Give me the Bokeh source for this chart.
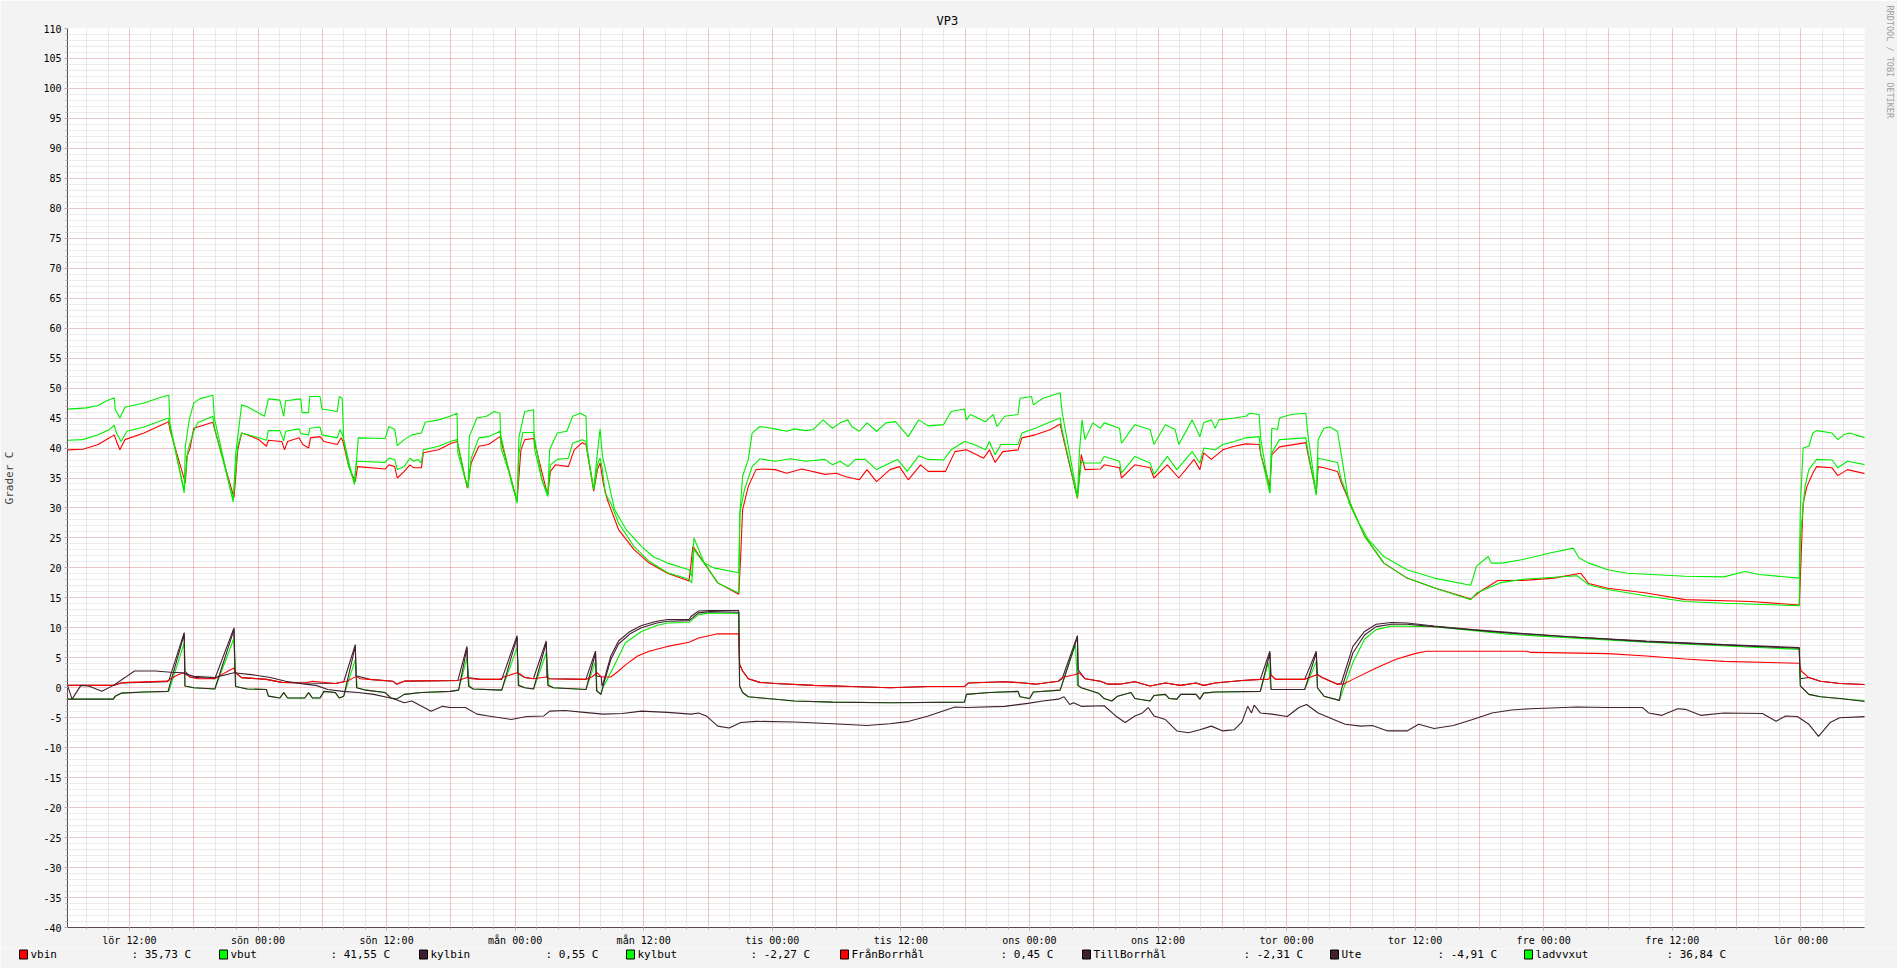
from bokeh.plotting import figure
from bokeh.layouts import column
from bokeh.models import Range1d, FixedTicker, Title
from bokeh.core.properties import value
from bokeh.embed import file_html
from bokeh.resources import INLINE

# ---------------- data (hours since first Saturday 00:00, degrees C) ----------------
vbin_h = [6.22, 7.65, 9.08, 10.15, 10.58, 10.86, 11.11, 11.58, 13.36, 15.65, 15.79, 17.22, 17.36, 17.65, 18.0, 19.79, 19.97, 21.76, 22.11, 22.47, 23.0, 24.08, 24.79, 24.97, 26.22, 26.47, 26.76, 27.83, 28.18, 28.72, 28.9, 29.79, 30.15, 31.4, 31.76, 31.93, 32.47, 33.08, 33.29, 35.86, 36.22, 36.76, 37.0, 37.65, 38.18, 38.54, 39.25, 39.43, 40.86, 41.93, 42.58, 43.54, 43.9, 44.61, 45.51, 46.58, 48.18, 48.54, 48.9, 49.72, 51.04, 51.29, 51.76, 52.97, 53.51, 54.26, 54.61, 55.33, 55.68, 55.93, 56.22, 56.58, 57.65, 59.08, 60.51, 62.22,
          64.23, 64.59, 65.12, 65.84, 66.91, 68.87, 69.05, 69.23, 69.76, 70.48, 71.19, 72.26, 73.34, 74.76, 76.91, 77.98, 78.87, 80.12, 80.84, 81.73, 82.98, 83.87, 84.69, 85.84, 86.55, 88.16, 89.05, 90.12, 91.73, 92.26, 92.8, 93.51, 94.94, 95.3, 96.55, 97.98, 98.87, 99.05, 100.48, 100.84, 101.19, 102.62, 102.98, 104.41, 104.59, 105.84, 107.26, 107.62, 108.87, 109.94, 111.37, 111.91, 112.26, 112.98, 114.05, 115.12, 116.19, 117.44,
          117.6, 118.44, 118.62, 119.34, 121.8, 121.94, 122.77, 122.95, 123.49, 124.75, 125.11, 126.19, 127.28, 129.08, 131.24, 133.77, 137.19, 138.1, 139.72, 142.06, 144.95, 147.47, 148.19, 149.99, 153.6, 157.21, 163.34, 167.85, 168.03, 168.21, 168.57, 169.11, 169.47, 170.91, 171.45, 172.35, 174.08]
vbin_v = [39.7, 39.8, 40.6, 41.7, 42.2, 40.8, 39.7, 41.4, 42.5, 44.4, 43.0, 34.2, 38.6, 39.9, 43.3, 44.3, 43.0, 31.7, 39.7, 42.5, 42.2, 41.4, 40.3, 41.3, 41.1, 39.7, 41.1, 41.7, 40.6, 40.0, 41.7, 41.9, 41.1, 40.6, 41.7, 41.1, 36.9, 34.4, 36.9, 36.5, 37.2, 36.9, 35.0, 36.1, 37.2, 36.7, 36.7, 39.2, 39.7, 40.7, 41.1, 33.3, 37.5, 40.3, 40.6, 41.9, 31.1, 39.7, 41.4, 41.6, 32.1, 36.1, 37.2, 36.9, 39.7, 40.9, 40.6, 32.8, 36.4, 37.5, 34.2, 31.5, 26.4, 23.1, 20.8, 19.1,
          17.8, 23.6, 22.2, 20.3, 17.5, 15.6, 21.9, 29.7, 33.6, 36.4, 36.5, 36.4, 35.8, 36.5, 35.6, 35.8, 35.2, 34.7, 36.4, 34.4, 36.4, 36.9, 34.7, 37.2, 36.1, 36.1, 39.4, 39.7, 38.3, 39.7, 37.6, 39.4, 39.7, 41.7, 42.2, 43.1, 44.0, 42.5, 31.6, 38.9, 36.4, 36.5, 37.2, 36.7, 35.0, 37.2, 36.7, 35.0, 37.2, 35.0, 38.1, 36.4, 39.2, 38.1, 39.7, 40.3, 40.7, 40.6,
          38.9, 33.6, 38.9, 40.2, 40.9, 39.5, 32.5, 36.9, 36.7, 36.1, 34.2, 29.7, 25.3, 20.8, 18.3, 16.7, 14.8, 16.1, 17.9, 17.9, 18.3, 19.1, 17.4, 16.6, 15.8, 14.7, 14.4, 13.8, 21.9, 30.8, 33.6, 35.8, 36.9, 36.7, 35.4, 36.4, 35.7]

vbut_h = [6.22, 8.0, 9.08, 9.79, 10.58, 10.68, 11.11, 11.58, 13.36, 15.15, 15.68, 15.79, 17.11, 17.22, 17.58, 18.0, 18.54, 19.79, 19.93, 21.68, 21.93, 22.47, 23.0, 24.6, 24.97, 26.04, 26.4, 26.58, 28.0, 28.11, 28.72, 28.83, 29.79, 29.97, 31.4, 31.58, 31.86, 32.0, 32.65, 33.0, 33.18, 33.36, 35.86, 36.22, 36.76, 37.0, 37.65, 38.36, 39.25, 39.61, 40.86, 41.93, 42.58, 42.65, 43.36, 43.61, 43.72, 44.43, 45.33, 46.04, 46.58, 46.68, 47.65, 48.18, 48.36, 48.9, 49.72, 49.79, 50.5, 51.04, 51.22, 51.93, 52.83, 53.36, 54.08, 54.61, 54.72, 55.33, 55.68, 55.93, 56.15, 56.58, 57.29, 58.36, 59.79, 60.86, 62.22,
          64.23, 64.48, 64.69, 65.12, 65.66, 66.55, 68.87, 68.98, 69.23, 69.76, 70.12, 70.84, 72.26, 73.34, 74.05, 75.12, 75.84, 76.73, 77.62, 78.34, 79.05, 79.41, 80.12, 80.84, 81.73, 82.62, 83.51, 84.69, 85.66, 86.55, 87.98, 88.69, 89.94, 90.12, 90.48, 91.91, 92.62, 92.98, 93.69, 94.94, 95.12, 96.19, 96.37, 97.26, 98.69, 98.87, 99.05, 100.48, 100.66, 100.91, 101.19, 101.91, 102.62, 102.98, 104.41, 104.59, 105.84, 107.26, 107.62, 108.69, 109.59, 109.94, 111.19, 111.91, 112.26, 112.98, 113.34, 113.69, 115.12, 116.19, 116.55, 117.44,
          117.6, 118.44, 118.62, 119.16, 119.34, 120.42, 121.8, 121.94, 122.77, 122.95, 123.49, 124.03, 124.75, 125.11, 125.83, 126.56, 127.64, 129.08, 131.24, 133.77, 137.19, 137.73, 138.82, 139.1, 140.08, 142.06, 144.59, 146.75, 147.29, 148.19, 149.99, 151.8, 157.21, 160.81, 162.8, 164.06, 167.85, 167.95, 168.21, 168.75, 169.11, 169.47, 170.91, 171.45, 171.99, 172.53, 173.07, 174.08]
vbut_v = [46.5, 46.7, 47.1, 47.8, 48.4, 46.4, 45.0, 46.8, 47.5, 48.6, 48.8, 44.0, 32.5, 40.3, 44.7, 47.5, 48.2, 48.8, 45.0, 31.0, 39.2, 47.2, 46.9, 45.3, 48.2, 48.0, 45.3, 47.9, 48.2, 45.9, 45.9, 48.6, 48.6, 46.5, 46.1, 48.6, 48.3, 41.4, 36.4, 33.9, 37.5, 41.7, 41.6, 43.6, 43.1, 40.4, 41.4, 42.2, 42.5, 44.3, 44.7, 45.3, 45.8, 39.2, 34.7, 33.3, 41.9, 45.0, 45.3, 46.1, 45.8, 40.0, 34.7, 30.8, 41.9, 46.1, 46.4, 40.0, 34.7, 31.9, 39.7, 42.5, 42.8, 45.3, 45.8, 45.3, 39.7, 33.1, 39.2, 43.2, 38.6, 35.3, 29.7, 26.4, 23.6, 21.9, 20.8,
          19.7, 18.6, 25.0, 23.1, 20.8, 20.0, 19.2, 29.2, 35.3, 38.1, 42.5, 43.6, 43.2, 42.8, 43.2, 42.9, 43.1, 44.7, 43.3, 44.2, 44.7, 43.6, 42.8, 44.2, 42.8, 44.2, 44.4, 41.9, 44.7, 43.7, 43.9, 46.1, 46.5, 44.7, 45.6, 44.4, 45.6, 43.6, 45.3, 45.6, 48.3, 48.6, 47.2, 48.3, 49.1, 49.2, 46.0, 31.9, 39.2, 44.7, 41.4, 44.2, 43.3, 44.2, 43.3, 40.8, 43.9, 43.1, 40.6, 43.9, 43.1, 40.6, 44.7, 41.9, 44.2, 44.7, 43.3, 44.7, 45.0, 45.3, 45.8, 45.6,
          41.4, 32.5, 43.3, 43.1, 45.0, 45.6, 45.8, 43.0, 32.2, 41.4, 43.3, 43.5, 42.8, 38.9, 30.8, 28.1, 24.7, 21.9, 19.7, 18.3, 17.1, 20.3, 21.9, 20.8, 20.8, 21.4, 22.5, 23.3, 21.7, 20.8, 19.7, 19.1, 18.6, 18.5, 19.4, 18.9, 18.3, 30.0, 40.0, 40.3, 42.5, 42.9, 42.5, 41.4, 42.2, 42.5, 42.2, 41.7]

ladvvxut_h = [6.22, 7.65, 9.08, 10.15, 10.58, 10.79, 11.22, 11.76, 13.36, 15.65, 15.79, 17.11, 17.47, 18.0, 18.36, 19.79, 19.93, 21.68, 22.11, 22.47, 24.08, 24.79, 24.97, 26.04, 26.4, 26.58, 27.83, 28.0, 28.72, 28.83, 29.79, 29.97, 31.4, 31.65, 31.93, 32.47, 33.0, 33.18, 35.86, 36.22, 36.76, 37.0, 37.65, 38.18, 38.54, 38.9, 39.25, 39.43, 40.86, 41.93, 42.58, 43.36, 43.61, 43.9, 44.61, 45.51, 46.58, 47.65, 48.18, 48.36, 48.72, 49.72, 50.5, 51.04, 51.29, 51.93, 52.97, 53.36, 54.26, 54.61, 55.33, 55.68, 55.93, 56.15, 56.4, 56.93, 57.65, 59.08, 60.51, 62.22,
              64.23, 64.48, 64.69, 65.12, 65.84, 66.91, 68.87, 68.98, 69.41, 70.12, 70.84, 72.26, 73.69, 75.12, 76.91, 77.62, 78.34, 79.05, 79.76, 80.66, 81.73, 82.98, 83.69, 84.59, 85.66, 86.55, 87.98, 88.69, 89.94, 90.84, 91.91, 92.26, 92.8, 93.34, 94.94, 95.3, 96.55, 97.98, 98.87, 99.05, 100.48, 100.84, 101.19, 102.62, 102.98, 104.41, 104.59, 105.84, 107.26, 107.62, 108.87, 109.76, 111.19, 111.91, 112.26, 113.34, 114.05, 115.12, 116.19, 117.44,
              117.6, 118.44, 118.62, 119.34, 121.8, 121.94, 122.77, 122.95, 123.49, 124.75, 125.11, 126.19, 127.28, 129.08, 131.24, 133.77, 137.19, 137.73, 139.9, 142.06, 147.11, 148.19, 149.99, 153.6, 157.21, 160.81, 167.85, 167.95, 168.39, 168.75, 169.47, 170.91, 171.45, 172.35, 174.08]
ladvvxut_v = [41.3, 41.4, 42.2, 43.1, 43.8, 42.5, 41.1, 42.8, 43.5, 45.0, 43.5, 33.0, 39.7, 42.8, 44.2, 45.3, 43.5, 31.4, 40.3, 42.5, 41.7, 41.3, 42.9, 42.9, 41.2, 42.8, 43.2, 42.4, 42.2, 43.3, 43.5, 42.2, 41.7, 43.1, 42.0, 36.9, 34.2, 37.8, 37.6, 38.3, 38.1, 36.4, 36.9, 38.3, 37.8, 38.1, 37.5, 39.7, 40.3, 41.1, 41.4, 34.7, 33.6, 38.3, 41.7, 41.9, 42.8, 34.2, 31.1, 39.2, 42.6, 42.6, 34.7, 32.2, 37.2, 38.1, 38.3, 40.8, 41.4, 41.1, 33.1, 37.2, 38.3, 36.4, 32.5, 30.8, 27.5, 23.6, 21.1, 19.2,
              18.1, 17.5, 23.1, 22.0, 20.3, 17.5, 15.8, 29.2, 33.1, 36.9, 38.2, 37.8, 38.2, 37.8, 38.1, 37.2, 37.8, 36.9, 38.1, 38.1, 36.4, 37.5, 38.1, 36.1, 38.7, 38.1, 38.0, 39.7, 41.1, 40.6, 39.7, 41.1, 38.9, 40.6, 40.6, 42.5, 43.3, 44.4, 45.0, 43.0, 31.7, 37.8, 37.5, 37.5, 38.6, 37.8, 35.8, 38.6, 37.5, 35.6, 38.6, 36.4, 39.4, 37.5, 40.0, 39.7, 40.6, 41.1, 41.7, 41.9,
              38.9, 32.5, 39.2, 41.4, 41.7, 40.0, 32.2, 38.3, 38.1, 37.6, 34.7, 29.7, 25.3, 20.8, 18.3, 16.7, 14.7, 15.8, 17.5, 18.1, 18.7, 17.2, 16.4, 15.3, 14.4, 14.1, 13.7, 25.0, 33.6, 36.4, 38.1, 38.0, 36.7, 37.8, 37.2]

fran_h = [6.22, 10.5, 11.22, 11.93, 15.51, 15.86, 16.58, 17.11, 17.65, 18.36, 19.97, 20.33, 21.22, 21.76, 21.93, 22.47, 24.79, 26.22, 28.36, 29.08, 31.22, 32.29, 33.18, 33.54, 34.43, 36.58, 36.93, 37.65, 42.65, 43.54, 43.9, 44.79, 46.58, 46.93, 48.18, 48.54, 48.9, 49.79, 50.86, 51.22, 54.58, 55.15, 55.68, 56.04, 56.93, 57.65, 58.36, 59.43, 60.51, 62.22,
          64.23, 65.12, 66.91, 68.87, 68.95, 69.23, 69.76, 70.84, 72.26, 75.84, 79.41, 82.98, 86.55, 89.94, 90.3, 93.69, 95.48, 96.55, 98.69, 99.05, 100.3, 100.66, 101.19, 102.62, 103.34, 104.41, 105.84, 107.26, 108.69, 110.12, 111.55, 112.26, 113.34, 115.84, 117.55,
          118.3, 118.55, 118.98, 121.69, 122.88, 123.31, 124.75, 125.29, 126.19, 128.36, 130.16, 131.96, 133.05, 142.42, 142.78, 149.99, 153.6, 157.21, 160.81, 167.85, 168.03, 168.75, 169.83, 171.63, 174.08]
fran_v = [0.4, 0.4, 0.8, 0.9, 1.1, 1.5, 2.2, 2.5, 1.8, 1.5, 1.5, 1.9, 2.8, 3.3, 2.5, 1.7, 1.4, 0.9, 0.8, 1.1, 0.7, 1.1, 1.9, 1.5, 1.4, 1.1, 0.6, 1.1, 1.2, 1.7, 1.5, 1.4, 1.4, 1.8, 2.5, 2.2, 1.7, 1.5, 1.8, 1.5, 1.4, 1.8, 2.5, 1.8, 1.8, 2.8, 3.9, 5.3, 6.1, 6.9,
          7.6, 8.3, 9.0, 9.0, 3.9, 2.8, 1.5, 0.9, 0.7, 0.4, 0.2, 0.0, 0.2, 0.2, 0.8, 1.0, 0.8, 0.6, 1.1, 1.7, 2.2, 2.5, 1.5, 1.1, 0.6, 0.6, 1.0, 0.3, 0.8, 0.4, 0.8, 0.4, 0.8, 1.2, 1.4,
          1.4, 2.1, 1.4, 1.4, 2.2, 1.7, 0.6, 0.6, 1.4, 3.3, 4.7, 5.7, 6.1, 6.1, 5.9, 5.7, 5.3, 4.8, 4.4, 4.1, 2.8, 1.7, 1.1, 0.7, 0.55]

kylbin_h = [6.22, 10.5, 11.22, 15.51, 15.68, 17.11, 17.18, 17.65, 19.97, 21.76, 21.83, 22.47, 24.79, 26.22, 28.36, 31.22, 32.0, 33.08, 33.15, 34.43, 36.58, 36.93, 37.65, 42.65, 43.5, 43.58, 44.79, 46.75, 48.18, 48.25, 48.9, 49.7, 50.9, 50.97, 51.22, 54.6, 55.5, 55.57, 56.04, 56.1, 56.22, 56.93, 57.65, 58.72, 59.79, 61.22, 62.22,
            64.23, 64.41, 65.12, 66.19, 68.87, 68.95, 69.23, 69.76, 70.84, 72.26, 75.84, 79.41, 82.98, 86.55, 89.94, 90.3, 93.69, 95.48, 96.55, 98.69, 99.05, 100.48, 100.55, 101.19, 102.62, 103.34, 104.41, 105.84, 107.26, 108.69, 110.12, 111.55, 112.26, 113.34, 115.84, 117.55,
            118.44, 118.55, 118.98, 121.69, 122.77, 122.88, 123.31, 124.75, 125.11, 126.19, 127.28, 128.36, 129.8, 131.24, 133.77, 137.37, 140.98, 146.39, 153.6, 160.81, 167.85, 167.95, 168.75, 169.83, 171.63, 174.08]
kylbin_v = [0.4, 0.4, 0.8, 1.0, 1.2, 9.2, 2.8, 1.8, 1.5, 10.0, 2.6, 1.7, 1.4, 0.9, 0.8, 0.7, 1.0, 7.2, 2.0, 1.4, 1.1, 0.6, 1.1, 1.2, 6.9, 1.7, 1.4, 1.4, 8.7, 2.4, 1.7, 1.5, 7.8, 1.8, 1.5, 1.4, 6.1, 2.0, 1.8, 0.3, 0.8, 5.3, 7.8, 9.4, 10.4, 11.1, 11.4,
            11.4, 11.9, 12.8, 12.9, 12.9, 3.9, 2.8, 1.5, 0.9, 0.7, 0.4, 0.2, 0.0, 0.2, 0.2, 0.8, 1.0, 0.8, 0.6, 1.1, 1.5, 8.7, 3.0, 1.5, 1.1, 0.6, 0.6, 1.0, 0.3, 0.8, 0.4, 0.8, 0.4, 0.8, 1.2, 1.4,
            6.1, 2.1, 1.4, 1.4, 6.1, 2.2, 1.7, 0.6, 0.8, 6.9, 9.4, 10.6, 10.9, 10.8, 10.3, 9.7, 9.2, 8.5, 7.8, 7.2, 6.7, 1.5, 1.7, 1.1, 0.7, 0.55]

kylbut_h = [6.22, 10.5, 10.68, 11.22, 13.36, 15.68, 17.11, 17.18, 18.0, 19.97, 21.76, 21.93, 23.0, 24.79, 24.97, 26.04, 26.4, 26.76, 28.36, 28.72, 29.08, 29.79, 30.15, 31.22, 31.58, 32.0, 33.08, 33.26, 34.08, 35.86, 36.4, 36.93, 37.65, 39.25, 41.93, 42.72, 43.5, 43.72, 44.08, 46.75, 48.18, 48.36, 48.9, 49.72, 50.9, 51.15, 51.58, 54.61, 55.5, 55.65, 56.0, 56.22, 57.22, 58.29, 59.79, 61.22, 62.22,
            64.23, 65.12, 66.19, 68.87, 68.95, 69.23, 69.76, 71.55, 74.05, 77.62, 82.98, 89.94, 90.12, 92.26, 94.94, 95.12, 96.01, 96.37, 98.87, 100.3, 100.48, 100.84, 102.44, 102.98, 103.69, 104.23, 105.48, 105.84, 107.26, 107.62, 108.69, 109.05, 109.76, 110.12, 111.55, 111.91, 112.26, 113.34, 117.55,
            118.3, 118.55, 121.69, 122.77, 122.88, 123.49, 124.93, 125.29, 126.19, 127.28, 128.36, 129.8, 133.77, 140.98, 153.6, 167.85, 167.95, 168.75, 169.83, 171.63, 174.08]
kylbut_v = [-1.9, -1.9, -1.4, -0.9, -0.7, -0.6, 7.5, 0.3, 0.0, -0.2, 8.3, 0.2, -0.2, -0.3, -1.4, -1.7, -0.8, -1.7, -1.7, -0.8, -1.7, -1.7, -0.6, -0.8, -1.7, -1.4, 4.7, 0.0, -0.4, -0.8, -1.7, -1.9, -1.1, -0.8, -0.6, -0.4, 5.0, 0.3, -0.2, -0.4, 6.7, 0.4, 0.0, -0.2, 5.8, 0.4, 0.0, -0.3, 4.4, -0.5, -1.1, 0.1, 3.6, 7.5, 9.4, 10.4, 10.8,
            10.9, 12.2, 12.5, 12.4, 0.3, -0.8, -1.5, -1.8, -2.2, -2.4, -2.5, -2.4, -1.1, -0.8, -0.6, -1.5, -1.8, -0.7, -0.4, 7.2, 0.4, 0.0, -0.9, -1.8, -2.2, -1.4, -0.8, -1.8, -2.2, -1.3, -1.1, -1.8, -1.9, -1.1, -1.1, -1.9, -0.9, -0.7, -0.6,
            4.2, -0.3, -0.3, 4.4, 0.0, -1.4, -2.1, -0.3, 4.2, 8.1, 9.7, 10.3, 10.2, 8.9, 7.6, 6.4, 0.3, -1.1, -1.5, -1.8, -2.2]

till_h = [6.22, 10.5, 10.68, 11.22, 13.36, 15.6, 17.11, 17.18, 18.0, 19.97, 21.76, 21.9, 23.0, 24.79, 24.97, 26.04, 26.4, 26.76, 28.36, 28.72, 29.08, 29.79, 30.15, 31.22, 31.58, 32.0, 33.08, 33.2, 34.08, 35.86, 36.4, 36.93, 37.65, 39.25, 41.93, 42.72, 43.5, 43.65, 44.08, 46.75, 48.18, 48.3, 48.9, 49.72, 50.9, 51.05, 51.58, 54.61, 55.5, 55.6, 56.0, 56.22, 56.93, 57.65, 58.72, 59.79, 61.22, 62.22,
          64.23, 65.12, 66.19, 68.87, 68.95, 69.23, 69.76, 71.55, 74.05, 77.62, 82.98, 89.94, 90.12, 92.26, 94.94, 95.12, 96.01, 96.37, 98.87, 100.48, 100.55, 100.84, 102.44, 102.98, 103.69, 104.23, 105.48, 105.84, 107.26, 107.62, 108.69, 109.05, 109.76, 110.12, 111.55, 111.91, 112.26, 113.34, 117.55,
          118.44, 118.55, 121.69, 122.77, 122.88, 123.49, 124.93, 125.11, 126.19, 127.28, 128.36, 129.8, 131.24, 133.77, 140.98, 153.6, 167.85, 167.95, 168.75, 169.83, 171.63, 174.08]
till_v = [-1.9, -1.9, -1.4, -0.9, -0.7, -0.6, 8.9, 0.3, 0.0, -0.2, 9.7, 0.2, -0.2, -0.3, -1.4, -1.7, -0.8, -1.7, -1.7, -0.8, -1.7, -1.7, -0.6, -0.8, -1.7, -1.4, 6.9, 0.0, -0.4, -0.8, -1.7, -1.9, -1.1, -0.8, -0.6, -0.4, 6.6, 0.3, -0.2, -0.4, 8.4, 0.4, 0.0, -0.2, 7.5, 0.4, 0.0, -0.3, 5.8, -0.5, -1.1, 0.4, 4.7, 7.3, 9.0, 10.0, 10.8, 11.1,
          11.2, 12.5, 12.7, 12.6, 0.3, -0.8, -1.5, -1.8, -2.2, -2.4, -2.5, -2.4, -1.1, -0.8, -0.6, -1.5, -1.8, -0.7, -0.4, 8.4, 0.4, 0.0, -0.9, -1.8, -2.2, -1.4, -0.8, -1.8, -2.2, -1.3, -1.1, -1.8, -1.9, -1.1, -1.1, -1.9, -0.9, -0.7, -0.6,
          5.8, -0.3, -0.3, 5.8, 0.0, -1.4, -2.1, -0.3, 5.8, 8.8, 10.2, 10.6, 10.6, 10.2, 9.1, 7.7, 6.6, 0.3, -1.1, -1.5, -1.8, -2.3]

ute_h = [6.22, 6.65, 7.47, 8.18, 9.43, 10.51, 11.58, 12.47, 14.43, 15.86, 16.93, 18.0, 19.97, 21.76, 23.36, 25.15, 26.58, 28.36, 29.43, 30.51, 31.93, 33.36, 34.79, 36.58, 37.65, 38.36, 40.15, 41.22, 41.93, 43.36, 44.43, 45.51, 47.65, 49.08, 50.68, 51.22, 52.65, 54.43, 56.22, 58.0, 59.79, 62.22,
         64.41, 65.12, 65.84, 66.91, 67.98, 69.05, 70.48, 74.05, 77.62, 80.84, 82.98, 84.76, 86.55, 89.05, 90.12, 93.69, 95.84, 97.26, 98.69, 99.23, 99.76, 100.12, 100.84, 102.98, 104.05, 104.94, 105.84, 106.55, 107.08, 107.62, 108.69, 109.76, 110.84, 111.91, 112.98, 114.05, 115.12, 115.84, 116.37, 116.73, 116.98, 117.55,
         118.62, 120.06, 121.15, 121.87, 122.95, 124.39, 125.47, 126.92, 128.0, 129.44, 131.24, 132.33, 133.77, 135.57, 137.37, 139.18, 140.98, 142.78, 147.11, 149.99, 153.24, 153.78, 155.04, 156.49, 157.21, 158.65, 160.81, 164.42, 165.68, 166.58, 167.67, 168.75, 169.65, 170.73, 171.63, 174.08]
ute_v = [0.4, -1.9, 0.4, 0.3, -0.6, 0.4, 1.7, 2.8, 2.8, 2.6, 2.5, 1.9, 1.7, 2.5, 2.2, 1.7, 1.1, 0.6, 0.4, -0.3, -0.6, -0.8, -1.1, -1.8, -2.5, -2.2, -3.9, -3.1, -3.3, -3.3, -4.4, -4.7, -5.3, -4.8, -4.7, -3.9, -3.8, -4.1, -4.4, -4.3, -3.9, -4.1,
         -4.4, -4.2, -4.7, -6.4, -6.7, -5.8, -5.6, -5.7, -6.0, -6.3, -6.0, -5.6, -4.7, -3.2, -3.3, -3.1, -2.6, -2.2, -1.9, -1.5, -2.8, -2.5, -3.1, -3.0, -4.7, -5.8, -4.7, -4.2, -3.3, -4.7, -5.3, -7.2, -7.5, -7.0, -6.4, -7.2, -7.0, -5.7, -3.1, -4.2, -2.9, -4.2,
         -4.4, -4.8, -3.3, -2.8, -4.2, -5.3, -6.1, -6.4, -6.3, -7.2, -7.2, -6.1, -6.8, -6.3, -5.3, -4.2, -3.7, -3.5, -3.2, -3.3, -3.3, -4.2, -4.6, -3.5, -3.6, -4.6, -4.2, -4.3, -5.6, -4.7, -4.8, -6.1, -8.1, -5.8, -5.0, -4.8]

tick_hours = [12, 24, 36, 48, 60, 72, 84, 96, 108, 120, 132, 144, 156, 168]
tick_labels = ["lör 12:00", "sön 00:00", "sön 12:00", "mån 00:00", "mån 12:00", "tis 00:00",
               "tis 12:00", "ons 00:00", "ons 12:00", "tor 00:00", "tor 12:00", "fre 00:00",
               "fre 12:00", "lör 00:00"]

legend_names = ["vbin", "vbut", "kylbin", "kylbut", "FrånBorrhål", "TillBorrhål", "Ute", "ladvvxut"]
legend_values = [": 35,73 C", ": 41,55 C", ": 0,55 C", ": -2,27 C", ": 0,45 C", ": -2,31 C", ": -4,91 C", ": 36,84 C"]

RED = "#ff0000"
GREEN = "#00ee00"
DARK = "#40202f"
legend_colors = [RED, "#00ff00", DARK, "#00ff00", RED, DARK, DARK, "#00ff00"]

MONO = "DejaVu Sans Mono"
BG = "#f3f3f3"

# ---------------- main figure ----------------
X0, X1 = 6.22, 173.94
W = 1897
p = figure(width=W, height=948, output_backend="svg", toolbar_location=None,
           x_range=Range1d(X0, X1), y_range=Range1d(-40, 110),
           min_border_left=67, min_border_right=32, min_border_top=28, min_border_bottom=20)
p.background_fill_color = "#ffffff"
p.border_fill_color = BG
p.outline_line_color = None

# title
p.title.text = "VP3"
p.title.align = "left"
p.title.offset = 869
p.title.standoff = 2
p.title.text_font = MONO
p.title.text_font_size = "12px"
p.title.text_font_style = "normal"
p.title.text_color = "#000000"

# y axis
p.yaxis.ticker = FixedTicker(ticks=list(range(-40, 111, 5)), minor_ticks=list(range(-40, 111)))
p.yaxis.major_label_overrides = {v: str(v) for v in range(-40, 111, 5)}
p.yaxis.axis_label = "Grader C"
p.yaxis.axis_label_text_font = MONO
p.yaxis.axis_label_text_font_style = "normal"
p.yaxis.axis_label_text_font_size = "11px"
p.yaxis.axis_label_standoff = 24
# x axis
p.xaxis.ticker = FixedTicker(ticks=tick_hours, minor_ticks=list(range(0, 176, 2)))
p.xaxis.major_label_overrides = dict(zip(tick_hours, tick_labels))
for ax in (p.xaxis[0], p.yaxis[0]):
    ax.major_label_text_font = MONO
    ax.major_label_text_font_size = "10px"
    ax.major_label_text_color = "#000000"
    ax.axis_line_color = "#5a4a4a"
    ax.major_tick_line_color = "#a0a0a0"
    ax.minor_tick_line_color = "#b8b8b8"
    ax.major_tick_out = 3
    ax.major_tick_in = 0
    ax.minor_tick_out = 2
    ax.minor_tick_in = 0
    ax.major_label_standoff = 3
p.xaxis.major_label_standoff = 4

# grids
p.xgrid.ticker = FixedTicker(ticks=list(range(0, 176, 6)), minor_ticks=list(range(0, 176, 2)))
for g in (p.xgrid[0], p.ygrid[0]):
    g.grid_line_color = "#ff0000"
    g.grid_line_alpha = 0.3
    g.grid_line_dash = "1 1"
    g.minor_grid_line_color = "#a0a0a0"
    g.minor_grid_line_alpha = 0.45
    g.minor_grid_line_dash = "1 1"

# series (drawn in legend order)
series = [(vbin_h, vbin_v, RED), (vbut_h, vbut_v, GREEN), (kylbin_h, kylbin_v, DARK),
          (kylbut_h, kylbut_v, GREEN), (fran_h, fran_v, RED), (till_h, till_v, DARK),
          (ute_h, ute_v, DARK), (ladvvxut_h, ladvvxut_v, GREEN)]
for xs, ys, c in series:
    p.line(xs, ys, line_color=c, line_width=1.1)

# watermark on the right (a thin spacer panel pushes it to the outer edge)
p.add_layout(Title(text=" ", text_font_size="1px", standoff=16, text_color=BG), "right")
p.add_layout(Title(text="RRDTOOL / TOBI OETIKER", align="left", offset=-23, standoff=2,
                   text_font=MONO, text_font_size="8.5px", text_font_style="normal",
                   text_color="#a0a0a0"), "right")

# ---------------- legend strip (rrdtool style, pixel coordinates) ----------------
LH = 20
lg = figure(width=W, height=LH, output_backend="svg", toolbar_location=None,
            x_range=Range1d(0, W), y_range=Range1d(LH, 0),
            x_axis_type=None, y_axis_type=None, min_border=0)
lg.background_fill_color = BG
lg.border_fill_color = BG
lg.outline_line_color = None
lg.xgrid.visible = False
lg.ygrid.visible = False
for fig in (p, lg):
    if "frame_align" in fig.properties():
        fig.frame_align = False

sq_px = [19, 219, 419, 626, 840, 1082, 1330, 1524]
name_px = [30, 230, 430, 637, 851, 1093, 1341, 1535]
val_px = [131, 330, 545, 750, 1000, 1243, 1437, 1666]
lg.quad(left=sq_px, right=[s + 8 for s in sq_px], top=[1.5] * 8, bottom=[10.5] * 8,
        fill_color=legend_colors, line_color="#000000", line_width=1)
lg.text(x=name_px, y=[6] * 8, text=legend_names, text_font=value(MONO), text_font_size="11px",
        text_baseline="middle", text_align="left", text_color="#000000")
lg.text(x=val_px, y=[6] * 8, text=legend_values, text_font=value(MONO), text_font_size="11px",
        text_baseline="middle", text_align="left", text_color="#000000")

layout = column(p, lg, spacing=0)
html = file_html(layout, INLINE)
html = html.replace("<body>", '<body style="background-color:#f3f3f3;">', 1)
open("out.html", "w").write(html)
